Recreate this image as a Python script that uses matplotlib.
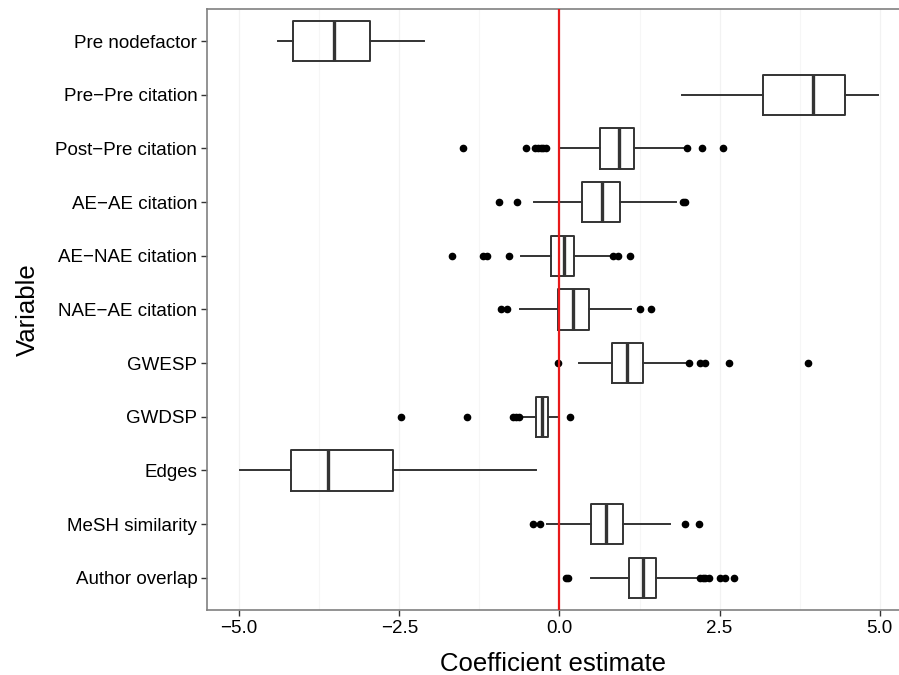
import matplotlib
matplotlib.use("Agg")
import matplotlib.pyplot as plt

plt.rcParams['font.family'] = ['Liberation Sans', 'DejaVu Sans']

# categories from top to bottom
VARIABLES = [
    "Pre nodefactor", "Pre\u2212Pre citation", "Post\u2212Pre citation",
    "AE\u2212AE citation", "AE\u2212NAE citation", "NAE\u2212AE citation",
    "GWESP", "GWDSP", "Edges", "MeSH similarity", "Author overlap",
]

WHISKER_LO = [-4.40, 1.92, 0.00, -0.40, -0.60, -0.61, 0.31, -0.59, -4.99, -0.20, 0.49]
Q1 = [-4.16, 3.17, 0.63, 0.36, -0.13, -0.02, 0.82, -0.37, -4.19, 0.49, 1.08]
MEDIAN = [-3.52, 3.96, 0.93, 0.66, 0.07, 0.21, 1.06, -0.27, -3.61, 0.73, 1.31]
Q3 = [-2.95, 4.45, 1.17, 0.95, 0.23, 0.46, 1.30, -0.18, -2.59, 1.00, 1.51]
WHISKER_HI = [-2.11, 4.97, 1.97, 1.82, 0.79, 1.12, 1.99, -0.04, -0.36, 1.73, 2.16]

OUTLIERS = [
    [],
    [],
    [-1.50, -0.52, -0.38, -0.33, -0.29, -0.25, -0.21, 1.99, 2.23, 2.55],
    [-0.94, -0.66, 1.93, 1.96],
    [-1.67, -1.20, -1.13, -0.79, 0.84, 0.92, 1.10],
    [-0.91, -0.82, 1.25, 1.43],
    [-0.02, 2.02, 2.20, 2.27, 2.64, 3.88],
    [-2.47, -1.45, -0.73, -0.68, -0.63, 0.16],
    [],
    [-0.42, -0.30, 1.96, 2.18],
    [0.10, 0.13, 2.20, 2.24, 2.27, 2.34, 2.51, 2.59, 2.72],
]

X_TICKS = [-5.0, -2.5, 0.0, 2.5, 5.0]

fig = plt.figure(figsize=(8.99, 6.75), dpi=100)
ax = fig.add_axes([0.2303, 0.0963, 0.7697, 0.8904])

n = len(VARIABLES)
positions = [n - i for i in range(n)]

stats = []
for i, name in enumerate(VARIABLES):
    stats.append({
        "label": name,
        "whislo": WHISKER_LO[i],
        "q1": Q1[i],
        "med": MEDIAN[i],
        "q3": Q3[i],
        "whishi": WHISKER_HI[i],
        "fliers": OUTLIERS[i],
    })

line_col = "#333333"
ax.bxp(stats, positions=positions, vert=False, widths=0.75, showcaps=False,
       boxprops=dict(color=line_col, linewidth=1.4),
       whiskerprops=dict(color=line_col, linewidth=1.4),
       medianprops=dict(color=line_col, linewidth=2.4),
       flierprops=dict(marker="o", markerfacecolor="black", markeredgecolor="black",
                       markersize=4.5, linestyle="none"))

ax.axvline(0, color="#e8191a", linewidth=1.6, zorder=5)

ax.set_xlim(-5.5, 5.3)
ax.set_ylim(0.4, n + 0.6)
ax.set_yticks(positions)
ax.set_yticklabels(VARIABLES)
ax.set_xticks(X_TICKS)
ax.set_xticklabels([f"{t:.1f}".replace("-", "\u2212") for t in X_TICKS])
ax.set_xticks([-3.75, -1.25, 1.25, 3.75], minor=True)

ax.grid(axis="x", which="major", color="#f2f2f2", linewidth=0.9)
ax.grid(axis="x", which="minor", color="#f6f6f6", linewidth=0.8)
ax.set_axisbelow(True)

for side in ["top", "left", "bottom"]:
    ax.spines[side].set_color("#808080")
    ax.spines[side].set_linewidth(1.2)
ax.spines["right"].set_visible(False)

ax.tick_params(axis="both", which="major", length=4, width=1.0, color="#333333",
               labelsize=13.5, labelcolor="black", pad=3)
ax.tick_params(axis="both", which="minor", length=0)

ax.set_xlabel("Coefficient estimate", fontsize=18.5, labelpad=11)
ax.set_ylabel("Variable", fontsize=18.5, labelpad=11)

fig.savefig("out.png", dpi=100)
